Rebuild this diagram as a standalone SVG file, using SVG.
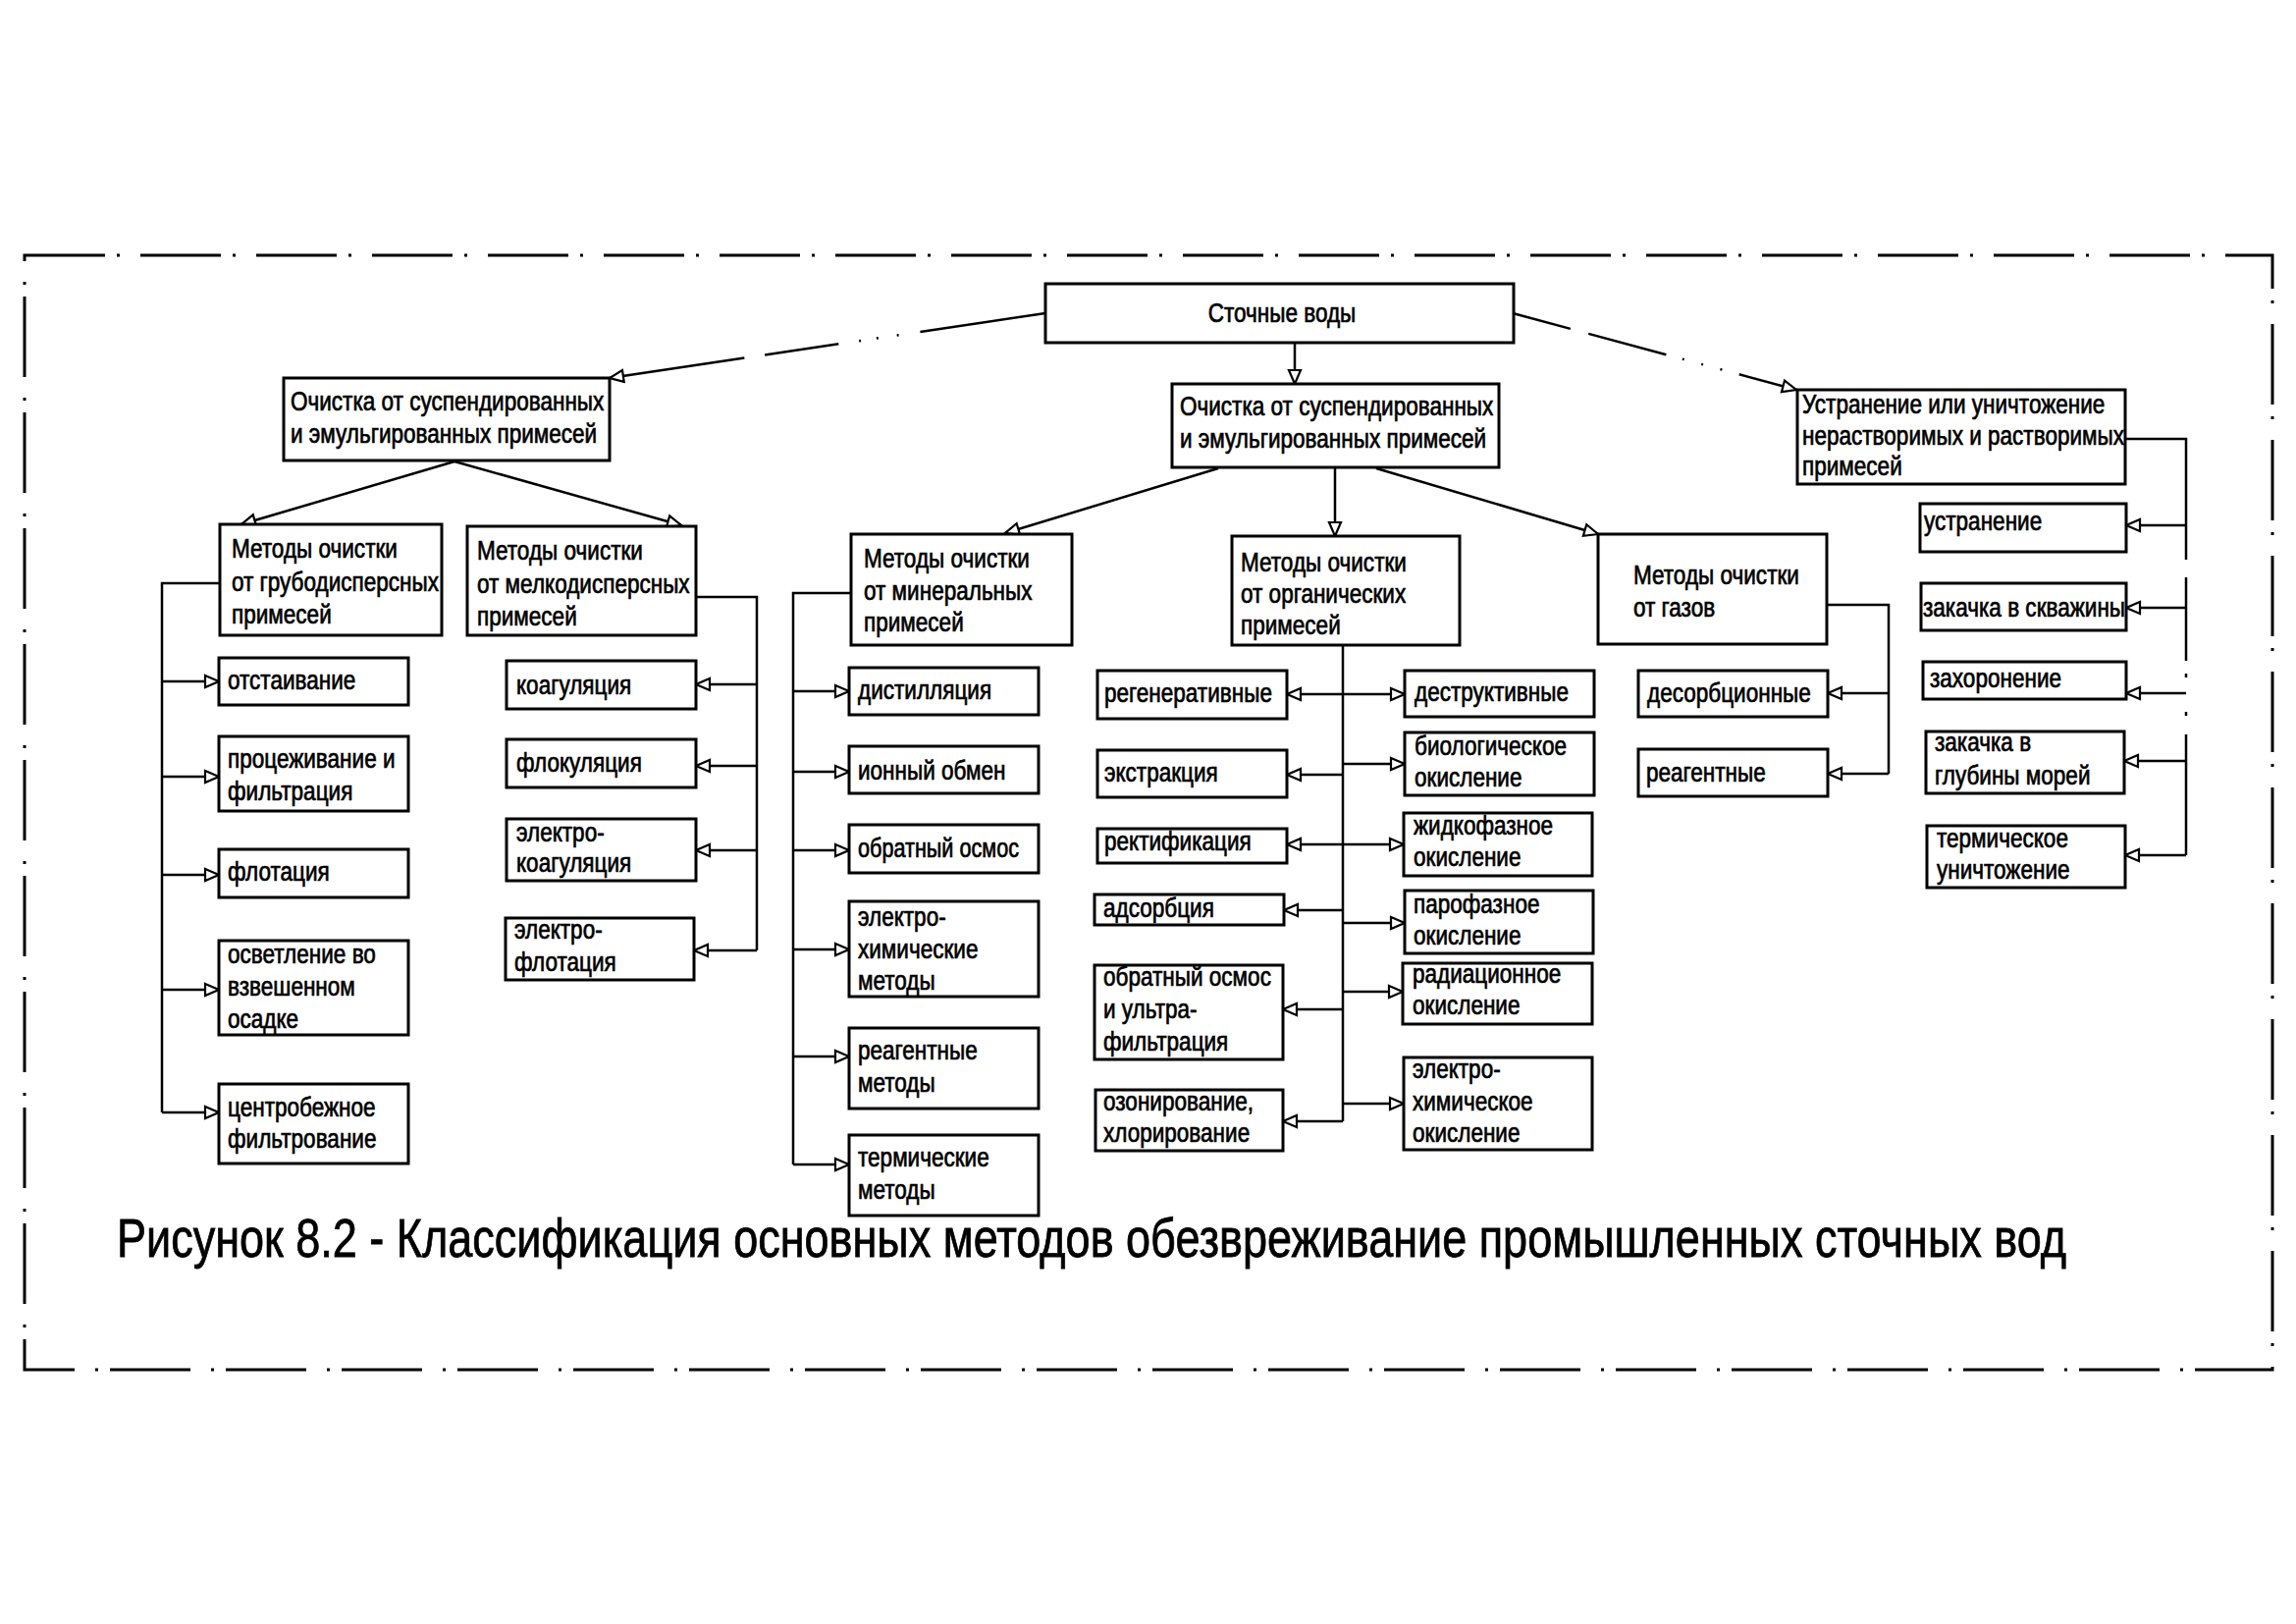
<svg xmlns="http://www.w3.org/2000/svg" width="2339" height="1654" viewBox="0 0 2339 1654">
<style>
.box{fill:#fff;stroke:#000;stroke-width:3}
.t{font-family:"Liberation Sans",Arial,sans-serif;font-size:27px;fill:#000;stroke:#000;stroke-width:0.7}
.cap{font-family:"Liberation Sans",Arial,sans-serif;font-size:56px;fill:#000;stroke:#000;stroke-width:0.8}
.c{fill:none;stroke:#000;stroke-width:2.5}
.a{marker-end:url(#arr)}
.b{marker-start:url(#arr);marker-end:url(#arr)}
</style>
<defs>
<marker id="arr" markerUnits="userSpaceOnUse" markerWidth="18" markerHeight="16" refX="15" refY="7" orient="auto-start-reverse" overflow="visible">
<path d="M1,1 L15,7 L1,13 Z" fill="#fff" stroke="#000" stroke-width="2.2"/>
</marker>
</defs>
<rect width="2339" height="1654" fill="#fff"/>
<path d="M25,260 H2315 V1395 H25 Z" fill="none" stroke="#000" stroke-width="3" stroke-dasharray="82 12 3 21"/>

<g id="connectors">
<line class="c a" x1="1065" y1="319" x2="621" y2="385" stroke-dasharray="129 22 2 19 2 16 2 21 76 21 160"/>
<line class="c a" x1="1541" y1="319" x2="1830" y2="397" stroke-dasharray="61 19 82 17 2 18 2 18 2 18 90"/>
<line class="c a" x1="1319" y1="349" x2="1319" y2="391"/>
<line class="c a" x1="463" y1="470" x2="246" y2="534"/>
<line class="c a" x1="463" y1="470" x2="694" y2="535"/>
<line class="c a" x1="1241" y1="477" x2="1024" y2="543"/>
<line class="c a" x1="1360" y1="477" x2="1360" y2="546"/>
<line class="c a" x1="1402" y1="477" x2="1628" y2="544"/>
<path class="c" d="M224,594 H165 V1133"/>
<line class="c a" x1="165" y1="694" x2="223" y2="694"/>
<line class="c a" x1="165" y1="791" x2="223" y2="791"/>
<line class="c a" x1="165" y1="891" x2="223" y2="891"/>
<line class="c a" x1="165" y1="1008" x2="223" y2="1008"/>
<line class="c a" x1="165" y1="1133" x2="223" y2="1133"/>
<path class="c" d="M709,608 H771 V968"/>
<line class="c a" x1="771" y1="697" x2="709" y2="697"/>
<line class="c a" x1="771" y1="780" x2="709" y2="780"/>
<line class="c a" x1="771" y1="866" x2="709" y2="866"/>
<line class="c a" x1="771" y1="968" x2="707" y2="968"/>
<path class="c" d="M867,604 H808 V1186"/>
<line class="c a" x1="808" y1="704" x2="865" y2="704"/>
<line class="c a" x1="808" y1="786" x2="865" y2="786"/>
<line class="c a" x1="808" y1="866" x2="865" y2="866"/>
<line class="c a" x1="808" y1="967" x2="865" y2="967"/>
<line class="c a" x1="808" y1="1076" x2="865" y2="1076"/>
<line class="c a" x1="808" y1="1186" x2="865" y2="1186"/>
<path class="c" d="M1368,657 V1142"/>
<line class="c b" x1="1311" y1="707" x2="1431" y2="707"/>
<line class="c a" x1="1368" y1="789" x2="1311" y2="789"/>
<line class="c b" x1="1311" y1="860" x2="1430" y2="860"/>
<line class="c a" x1="1368" y1="927" x2="1308" y2="927"/>
<line class="c a" x1="1368" y1="1028" x2="1307" y2="1028"/>
<line class="c a" x1="1368" y1="1142" x2="1307" y2="1142"/>
<line class="c a" x1="1368" y1="778" x2="1431" y2="778"/>
<line class="c a" x1="1368" y1="940" x2="1431" y2="940"/>
<line class="c a" x1="1368" y1="1010" x2="1429" y2="1010"/>
<line class="c a" x1="1368" y1="1124" x2="1430" y2="1124"/>
<path class="c" d="M1861,616 H1924 V788"/>
<line class="c a" x1="1924" y1="706" x2="1862" y2="706"/>
<line class="c a" x1="1924" y1="788" x2="1862" y2="788"/>
<path class="c" d="M2165,447 H2227 V570 M2227,588 V673 M2227,686 V690 M2227,725 V729 M2227,748 V871"/>
<line class="c a" x1="2227" y1="535" x2="2166" y2="535"/>
<line class="c a" x1="2227" y1="619" x2="2166" y2="619"/>
<line class="c a" x1="2227" y1="706" x2="2166" y2="706"/>
<line class="c a" x1="2227" y1="775" x2="2164" y2="775"/>
<line class="c a" x1="2227" y1="871" x2="2165" y2="871"/>
</g>

<g id="n-root"><rect class="box" x="1065" y="289" width="477" height="60"/><text class="t" transform="matrix(0.835 0 0 1 215.49 0)" x="1306" y="328" text-anchor="middle">Сточные воды</text></g>

<g id="n-l1-left"><rect class="box" x="289" y="385" width="332" height="84"/><text class="t" transform="matrix(0.835 0 0 1 48.84 0)"><tspan x="296" y="418">Очистка от суспендированных</tspan><tspan x="296" y="451">и эмульгированных примесей</tspan></text></g>
<g id="n-l1-mid"><rect class="box" x="1194" y="391" width="333" height="85"/><text class="t" transform="matrix(0.835 0 0 1 198.33 0)"><tspan x="1202" y="423">Очистка от суспендированных</tspan><tspan x="1202" y="456">и эмульгированных примесей</tspan></text></g>
<g id="n-l1-right"><rect class="box" x="1831" y="397" width="334" height="96"/><text class="t" transform="matrix(0.835 0 0 1 302.94 0)"><tspan x="1836" y="421">Устранение или уничтожение</tspan><tspan x="1836" y="453">нерастворимых и растворимых</tspan><tspan x="1836" y="484">примесей</tspan></text></g>

<g id="n-grub"><rect class="box" x="224" y="534" width="226" height="113"/><text class="t" transform="matrix(0.835 0 0 1 38.94 0)"><tspan x="236" y="568">Методы очистки</tspan><tspan x="236" y="602">от грубодисперсных</tspan><tspan x="236" y="635">примесей</tspan></text></g>
<g id="n-melk"><rect class="box" x="476" y="536" width="233" height="111"/><text class="t" transform="matrix(0.835 0 0 1 80.19 0)"><tspan x="486" y="570">Методы очистки</tspan><tspan x="486" y="604">от мелкодисперсных</tspan><tspan x="486" y="637">примесей</tspan></text></g>
<g id="n-min"><rect class="box" x="867" y="544" width="225" height="113"/><text class="t" transform="matrix(0.835 0 0 1 145.2 0)"><tspan x="880" y="578">Методы очистки</tspan><tspan x="880" y="611">от минеральных</tspan><tspan x="880" y="643">примесей</tspan></text></g>
<g id="n-org"><rect class="box" x="1255" y="546" width="232" height="111"/><text class="t" transform="matrix(0.835 0 0 1 208.56 0)"><tspan x="1264" y="582">Методы очистки</tspan><tspan x="1264" y="614">от органических</tspan><tspan x="1264" y="646">примесей</tspan></text></g>
<g id="n-gas"><rect class="box" x="1628" y="544" width="233" height="112"/><text class="t" transform="matrix(0.835 0 0 1 274.56 0)"><tspan x="1664" y="595">Методы очистки</tspan><tspan x="1664" y="628">от газов</tspan></text></g>

<g id="n-otst"><rect class="box" x="223" y="670" width="193" height="48"/><text class="t" transform="matrix(0.835 0 0 1 38.28 0)" x="232" y="702">отстаивание</text></g>
<g id="n-proc"><rect class="box" x="223" y="750" width="193" height="76"/><text class="t" transform="matrix(0.835 0 0 1 38.28 0)"><tspan x="232" y="782">процеживание и</tspan><tspan x="232" y="815">фильтрация</tspan></text></g>
<g id="n-flot"><rect class="box" x="223" y="865" width="193" height="49"/><text class="t" transform="matrix(0.835 0 0 1 38.28 0)" x="232" y="897">флотация</text></g>
<g id="n-osvet"><rect class="box" x="223" y="958" width="193" height="96"/><text class="t" transform="matrix(0.835 0 0 1 38.28 0)"><tspan x="232" y="981">осветление во</tspan><tspan x="232" y="1014">взвешенном</tspan><tspan x="232" y="1047">осадке</tspan></text></g>
<g id="n-centr"><rect class="box" x="223" y="1104" width="193" height="81"/><text class="t" transform="matrix(0.835 0 0 1 38.28 0)"><tspan x="232" y="1137">центробежное</tspan><tspan x="232" y="1169">фильтрование</tspan></text></g>

<g id="n-koag"><rect class="box" x="516" y="673" width="193" height="49"/><text class="t" transform="matrix(0.835 0 0 1 86.79 0)" x="526" y="707">коагуляция</text></g>
<g id="n-flok"><rect class="box" x="516" y="753" width="193" height="49"/><text class="t" transform="matrix(0.835 0 0 1 86.79 0)" x="526" y="786">флокуляция</text></g>
<g id="n-ekoag"><rect class="box" x="516" y="834" width="193" height="63"/><text class="t" transform="matrix(0.835 0 0 1 86.79 0)"><tspan x="526" y="857">электро-</tspan><tspan x="526" y="888">коагуляция</tspan></text></g>
<g id="n-eflot"><rect class="box" x="515" y="935" width="192" height="63"/><text class="t" transform="matrix(0.835 0 0 1 86.46 0)"><tspan x="524" y="956">электро-</tspan><tspan x="524" y="989">флотация</tspan></text></g>

<g id="n-dist"><rect class="box" x="865" y="680" width="193" height="48"/><text class="t" transform="matrix(0.835 0 0 1 144.21 0)" x="874" y="712">дистилляция</text></g>
<g id="n-ion"><rect class="box" x="865" y="760" width="193" height="48"/><text class="t" transform="matrix(0.835 0 0 1 144.21 0)" x="874" y="794">ионный обмен</text></g>
<g id="n-osm"><rect class="box" x="865" y="840" width="193" height="49"/><text class="t" x="874" y="873" font-size="26" textLength="164" lengthAdjust="spacingAndGlyphs">обратный осмос</text></g>
<g id="n-ehim"><rect class="box" x="865" y="918" width="193" height="97"/><text class="t" transform="matrix(0.835 0 0 1 144.21 0)"><tspan x="874" y="943">электро-</tspan><tspan x="874" y="976">химические</tspan><tspan x="874" y="1008">методы</tspan></text></g>
<g id="n-reag"><rect class="box" x="865" y="1047" width="193" height="82"/><text class="t" transform="matrix(0.835 0 0 1 144.21 0)"><tspan x="874" y="1079">реагентные</tspan><tspan x="874" y="1112">методы</tspan></text></g>
<g id="n-term"><rect class="box" x="865" y="1156" width="193" height="82"/><text class="t" transform="matrix(0.835 0 0 1 144.21 0)"><tspan x="874" y="1188">термические</tspan><tspan x="874" y="1221">методы</tspan></text></g>

<g id="n-regen"><rect class="box" x="1118" y="683" width="193" height="49"/><text class="t" transform="matrix(0.835 0 0 1 185.63 0)" x="1125" y="715">регенеративные</text></g>
<g id="n-ekstr"><rect class="box" x="1118" y="764" width="193" height="48"/><text class="t" transform="matrix(0.835 0 0 1 185.63 0)" x="1125" y="796">экстракция</text></g>
<g id="n-rekt"><rect class="box" x="1118" y="844" width="193" height="35"/><text class="t" transform="matrix(0.835 0 0 1 185.63 0)" x="1125" y="866">ректификация</text></g>
<g id="n-ads"><rect class="box" x="1115" y="911" width="193" height="31"/><text class="t" transform="matrix(0.835 0 0 1 185.46 0)" x="1124" y="934">адсорбция</text></g>
<g id="n-osmuf"><rect class="box" x="1115" y="983" width="192" height="96"/><text class="t" transform="matrix(0.835 0 0 1 185.46 0)"><tspan x="1124" y="1004">обратный осмос</tspan><tspan x="1124" y="1037">и ультра-</tspan><tspan x="1124" y="1070">фильтрация</tspan></text></g>
<g id="n-ozon"><rect class="box" x="1116" y="1110" width="191" height="62"/><text class="t" transform="matrix(0.835 0 0 1 185.46 0)"><tspan x="1124" y="1131">озонирование,</tspan><tspan x="1124" y="1163">хлорирование</tspan></text></g>

<g id="n-destr"><rect class="box" x="1431" y="683" width="193" height="47"/><text class="t" transform="matrix(0.835 0 0 1 237.77 0)" x="1441" y="714">деструктивные</text></g>
<g id="n-bio"><rect class="box" x="1431" y="746" width="193" height="64"/><text class="t" transform="matrix(0.835 0 0 1 237.77 0)"><tspan x="1441" y="769">биологическое</tspan><tspan x="1441" y="801">окисление</tspan></text></g>
<g id="n-zhid"><rect class="box" x="1430" y="828" width="192" height="64"/><text class="t" transform="matrix(0.835 0 0 1 237.6 0)"><tspan x="1440" y="850">жидкофазное</tspan><tspan x="1440" y="882">окисление</tspan></text></g>
<g id="n-par"><rect class="box" x="1431" y="907" width="192" height="64"/><text class="t" transform="matrix(0.835 0 0 1 237.6 0)"><tspan x="1440" y="930">парофазное</tspan><tspan x="1440" y="962">окисление</tspan></text></g>
<g id="n-rad"><rect class="box" x="1429" y="981" width="193" height="62"/><text class="t" transform="matrix(0.835 0 0 1 237.44 0)"><tspan x="1439" y="1001">радиационное</tspan><tspan x="1439" y="1033">окисление</tspan></text></g>
<g id="n-ehimok"><rect class="box" x="1430" y="1077" width="192" height="94"/><text class="t" transform="matrix(0.835 0 0 1 237.44 0)"><tspan x="1439" y="1098">электро-</tspan><tspan x="1439" y="1131">химическое</tspan><tspan x="1439" y="1163">окисление</tspan></text></g>

<g id="n-desorb"><rect class="box" x="1669" y="683" width="193" height="47"/><text class="t" transform="matrix(0.835 0 0 1 276.87 0)" x="1678" y="715">десорбционные</text></g>
<g id="n-reag2"><rect class="box" x="1669" y="763" width="193" height="48"/><text class="t" transform="matrix(0.835 0 0 1 276.71 0)" x="1677" y="796">реагентные</text></g>

<g id="n-ustr"><rect class="box" x="1956" y="513" width="210" height="49"/><text class="t" transform="matrix(0.835 0 0 1 323.4 0)" x="1960" y="540">устранение</text></g>
<g id="n-skv"><rect class="box" x="1957" y="594" width="209" height="48"/><text class="t" transform="matrix(0.835 0 0 1 323.24 0)" x="1959" y="628">закачка в скважины</text></g>
<g id="n-zah"><rect class="box" x="1959" y="674" width="207" height="38"/><text class="t" transform="matrix(0.835 0 0 1 324.39 0)" x="1966" y="700">захоронение</text></g>
<g id="n-mor"><rect class="box" x="1962" y="745" width="202" height="63"/><text class="t" transform="matrix(0.835 0 0 1 325.22 0)"><tspan x="1971" y="765">закачка в</tspan><tspan x="1971" y="799">глубины морей</tspan></text></g>
<g id="n-unich"><rect class="box" x="1963" y="841" width="202" height="63"/><text class="t" transform="matrix(0.835 0 0 1 325.55 0)"><tspan x="1973" y="863">термическое</tspan><tspan x="1973" y="895">уничтожение</tspan></text></g>

<text class="cap" x="119" y="1280" textLength="1986" lengthAdjust="spacingAndGlyphs">Рисунок 8.2 - Классификация основных методов обезвреживание промышленных сточных вод</text>
</svg>
